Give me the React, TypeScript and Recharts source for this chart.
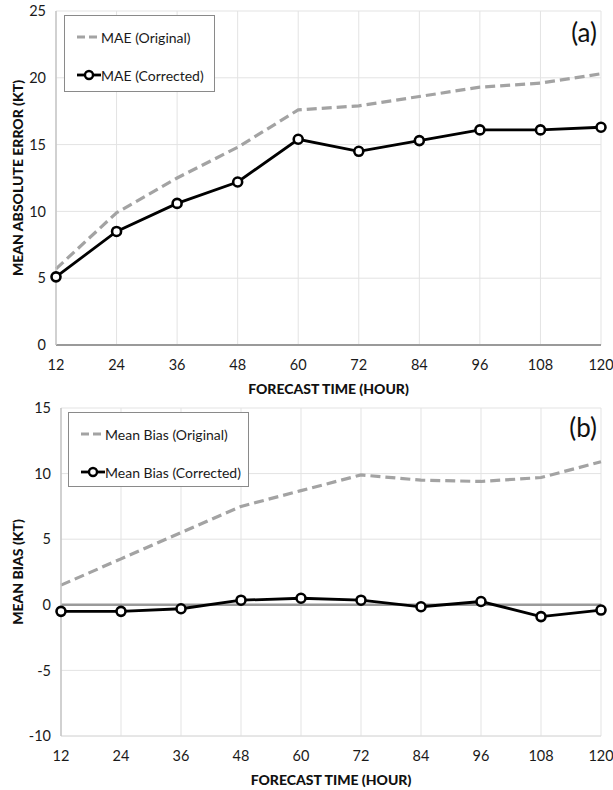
import {
  LineChart,
  Line,
  XAxis,
  YAxis,
  CartesianGrid,
  ReferenceLine,
  Label,
} from "recharts";

const hours = [12, 24, 36, 48, 60, 72, 84, 96, 108, 120];
const maeOriginal = [5.7, 9.9, 12.5, 14.8, 17.6, 17.9, 18.6, 19.3, 19.6, 20.3];
const maeCorrected = [5.1, 8.5, 10.6, 12.2, 15.4, 14.5, 15.3, 16.1, 16.1, 16.3];
const biasOriginal = [1.5, 3.5, 5.5, 7.5, 8.7, 9.9, 9.5, 9.4, 9.7, 10.9];
const biasCorrected = [-0.5, -0.5, -0.3, 0.35, 0.5, 0.35, -0.15, 0.25, -0.9, -0.4];

const maeTicks = [0, 5, 10, 15, 20, 25];
const biasTicks = [-10, -5, 0, 5, 10, 15];

const maeNames = ["MAE (Original)", "MAE (Corrected)"];
const biasNames = ["Mean Bias (Original)", "Mean Bias (Corrected)"];
const xTitle = "FORECAST TIME (HOUR)";

const FONT = "Lato, 'Open Sans', sans-serif";
const GRID = "#e3e3e3";
const ORIG = "#a3a3a3";

const maeData = hours.map((h, i) => ({
  hour: h,
  orig: maeOriginal[i],
  corr: maeCorrected[i],
}));
const biasData = hours.map((h, i) => ({
  hour: h,
  orig: biasOriginal[i],
  corr: biasCorrected[i],
}));

const tickStyle = { fontSize: 14.5, fill: "#1a1a1a", fontFamily: FONT };

// rotated y title, centred on the axis box
const yTitle = (text: string) => (props: any) => {
  const vb = props.viewBox;
  const x = vb.x + 17;
  const y = vb.y + vb.height / 2;
  return (
    <text
      x={x}
      y={y}
      transform={`rotate(-90 ${x} ${y})`}
      textAnchor="middle"
      dominantBaseline="central"
      fontFamily={FONT}
      fontWeight={900}
      fontSize={14}
      fill="#111"
    >
      {text}
    </text>
  );
};

const xTitleLabel = (props: any) => {
  const vb = props.viewBox;
  return (
    <text
      x={vb.x + vb.width / 2}
      y={vb.y + 43.5}
      textAnchor="middle"
      dominantBaseline="central"
      fontFamily={FONT}
      fontWeight={900}
      fontSize={14}
      fill="#111"
    >
      {xTitle}
    </text>
  );
};

function LegendBox({
  names,
  left,
  top,
  width,
  height,
}: {
  names: string[];
  left: number;
  top: number;
  width: number;
  height: number;
}) {
  return (
    <div
      style={{
        position: "absolute",
        left,
        top,
        width,
        height,
        border: "1px solid #8a8a8a",
        background: "#fff",
        boxSizing: "border-box",
        fontFamily: FONT,
        fontSize: 14,
        color: "#1a1a1a",
      }}
    >
      {names.map((n, i) => (
        <div
          key={n}
          style={{
            position: "absolute",
            left: 12,
            top: i === 0 ? 11 : 49,
            height: 20,
            display: "flex",
            alignItems: "center",
            whiteSpace: "nowrap",
          }}
        >
          <svg width={24} height={14}>
            {i === 0 ? (
              <line
                x1={0}
                x2={24}
                y1={7}
                y2={7}
                stroke={ORIG}
                strokeWidth={3}
                strokeDasharray="8 4"
              />
            ) : (
              <g>
                <line x1={0} x2={24} y1={7} y2={7} stroke="#000" strokeWidth={2.8} />
                <circle cx={12} cy={7} r={4} fill="#fff" stroke="#000" strokeWidth={2.4} />
              </g>
            )}
          </svg>
          {n}
        </div>
      ))}
    </div>
  );
}

const panelStyle = (top: number) => ({
  position: "absolute" as const,
  right: 16,
  top,
  fontFamily: FONT,
  fontSize: 26,
  color: "#111",
  lineHeight: "30px",
});

export default function App() {
  return (
    <div
      style={{
        position: "absolute",
        left: 0,
        top: 0,
        width: 613,
        height: 790,
        background: "#fff",
      }}
    >
      <div style={{ position: "absolute", left: 0, top: 0 }}>
        <LineChart
          width={613}
          height={398}
          data={maeData}
          margin={{ top: 11, right: 12, left: 0, bottom: 0 }}
        >
          <CartesianGrid stroke={GRID} strokeWidth={1} />
          <XAxis
            dataKey="hour"
            type="number"
            domain={[12, 120]}
            ticks={hours}
            height={53}
            tickLine={false}
            tickSize={0}
            tickMargin={15}
            axisLine={{ stroke: "#9a9a9a", strokeWidth: 2 }}
            tick={tickStyle}
          >
            <Label content={xTitleLabel} />
          </XAxis>
          <YAxis
            width={56}
            domain={[0, 25]}
            ticks={maeTicks}
            tickLine={false}
            tickSize={0}
            tickMargin={10}
            axisLine={{ stroke: "#c6c6c6", strokeWidth: 1.5 }}
            tick={tickStyle}
          >
            <Label content={yTitle("MEAN ABSOLUTE ERROR (KT)")} />
          </YAxis>
          <Line
            dataKey="orig"
            stroke={ORIG}
            strokeWidth={3.2}
            strokeDasharray="10 5"
            dot={false}
            isAnimationActive={false}
          />
          <Line
            dataKey="corr"
            stroke="#000"
            strokeWidth={2.8}
            dot={{ r: 4.5, stroke: "#000", strokeWidth: 2.6, fill: "#fff" }}
            isAnimationActive={false}
          />
        </LineChart>
      </div>
      <div style={{ position: "absolute", left: 0, top: 398 }}>
        <LineChart
          width={613}
          height={392}
          data={biasData}
          margin={{ top: 10, right: 12, left: 0, bottom: 0 }}
        >
          <CartesianGrid stroke={GRID} strokeWidth={1} />
          <XAxis
            dataKey="hour"
            type="number"
            domain={[12, 120]}
            ticks={hours}
            height={54}
            tickLine={false}
            tickSize={0}
            tickMargin={15}
            axisLine={{ stroke: "#dcdcdc", strokeWidth: 1 }}
            tick={tickStyle}
          >
            <Label content={xTitleLabel} />
          </XAxis>
          <YAxis
            width={61}
            domain={[-10, 15]}
            ticks={biasTicks}
            tickLine={false}
            tickSize={0}
            tickMargin={10}
            axisLine={{ stroke: "#c6c6c6", strokeWidth: 1.5 }}
            tick={tickStyle}
          >
            <Label content={yTitle("MEAN BIAS (KT)")} />
          </YAxis>
          <ReferenceLine y={0} stroke="#9a9a9a" strokeWidth={2.5} />
          <Line
            dataKey="orig"
            stroke={ORIG}
            strokeWidth={3.2}
            strokeDasharray="10 5"
            dot={false}
            isAnimationActive={false}
          />
          <Line
            dataKey="corr"
            stroke="#000"
            strokeWidth={2.8}
            dot={{ r: 4.5, stroke: "#000", strokeWidth: 2.6, fill: "#fff" }}
            isAnimationActive={false}
          />
        </LineChart>
      </div>
      <LegendBox names={maeNames} left={64} top={15} width={151} height={77} />
      <LegendBox names={biasNames} left={68} top={412} width={181} height={75} />
      <div style={panelStyle(17)}>(a)</div>
      <div style={panelStyle(412)}>(b)</div>
    </div>
  );
}
